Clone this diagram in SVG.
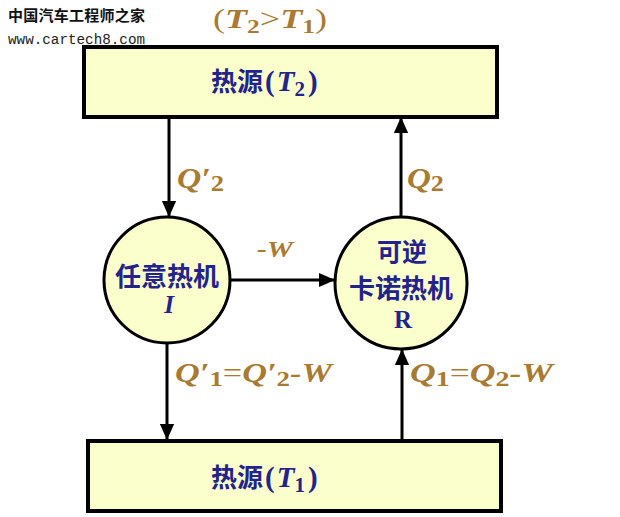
<svg xmlns="http://www.w3.org/2000/svg" width="620" height="517" viewBox="0 0 620 517">
<style>
.box{fill:#FAFFCC;stroke:#000;stroke-width:4}
.circ{fill:#FAFFCC;stroke:#000;stroke-width:3}
.ln{stroke:#000;stroke-width:3;fill:none}
.cn{font-family:"Noto Sans CJK SC","Noto Sans",sans-serif;font-weight:bold;fill:#23238C}
.lat{font-family:"Liberation Serif",serif;font-weight:bold;fill:#23238C}
.lab{font-family:"Liberation Serif",serif;font-weight:bold;font-style:italic;fill:#A87A32}
.it{font-style:italic}
.up{font-style:normal}
</style>
<defs>
<marker id="ah" markerUnits="userSpaceOnUse" markerWidth="16" markerHeight="20" viewBox="0 0 18 16" refX="18" refY="8" orient="auto">
<path d="M0,0 L18,8 L0,16 Z" fill="#000"/>
</marker>
</defs>
<rect width="620" height="517" fill="#fff"/>
<g id="watermark">
<text x="8" y="21" font-family="Noto Sans CJK SC,sans-serif" font-weight="bold" font-size="15" textLength="137" fill="#111">中国汽车工程师之家</text>
<text x="8" y="44" font-family="Liberation Mono,monospace" font-size="14" textLength="137" lengthAdjust="spacingAndGlyphs" fill="#222">www.cartech8.com</text>
</g>
<g id="condition">
<text x="213" y="28" class="lab" font-size="27" textLength="114" lengthAdjust="spacingAndGlyphs"><tspan class="up" font-weight="normal">(</tspan>T<tspan class="up" font-size="19" dy="5">2</tspan><tspan class="up" font-weight="normal" dy="-5">&gt;</tspan>T<tspan class="up" font-size="19" dy="5">1</tspan><tspan class="up" font-weight="normal" dy="-5">)</tspan></text>
</g>
<g id="connectors">
<line class="ln" x1="169" y1="117" x2="169" y2="217" marker-end="url(#ah)"/>
<line class="ln" x1="401" y1="217" x2="401" y2="117" marker-end="url(#ah)"/>
<line class="ln" x1="230" y1="280" x2="335" y2="280" marker-end="url(#ah)"/>
<line class="ln" x1="167" y1="343" x2="167" y2="440" marker-end="url(#ah)"/>
<line class="ln" x1="402" y1="440" x2="402" y2="349" marker-end="url(#ah)"/>
</g>
<g id="hot-source">
<rect class="box" x="84" y="47" width="413" height="70"/>
<text x="211" y="91" class="cn" font-size="26">热源<tspan class="lat" font-size="29" dx="2">(</tspan><tspan class="lat it" font-size="29" dx="2">T</tspan><tspan class="lat" font-size="21" dy="5">2</tspan><tspan class="lat" font-size="29" dy="-5" dx="3">)</tspan></text>
</g>
<g id="cold-source">
<rect class="box" x="88" y="441" width="413" height="70"/>
<text x="211" y="487" class="cn" font-size="26">热源<tspan class="lat" font-size="29" dx="2">(</tspan><tspan class="lat it" font-size="29" dx="2">T</tspan><tspan class="lat" font-size="21" dy="5">1</tspan><tspan class="lat" font-size="29" dy="-5" dx="3">)</tspan></text>
</g>
<g id="engine-I">
<circle class="circ" cx="167" cy="280" r="63"/>
<text x="167" y="286" class="cn" font-size="26" text-anchor="middle">任意热机</text>
<text x="169" y="313" class="lat it" font-size="25" text-anchor="middle">I</text>
</g>
<g id="engine-R">
<circle class="circ" cx="401" cy="283" r="66"/>
<text x="402" y="261" class="cn" font-size="25" text-anchor="middle">可逆</text>
<text x="401" y="298" class="cn" font-size="26" text-anchor="middle">卡诺热机</text>
<text x="403" y="328" class="lat" font-size="25" text-anchor="middle">R</text>
</g>
<g id="labels">
<text x="177" y="188" class="lab" font-size="29" textLength="47" lengthAdjust="spacingAndGlyphs">Q′<tspan class="up" font-size="23" dy="3">2</tspan></text>
<text x="407" y="188" class="lab" font-size="29" textLength="37" lengthAdjust="spacingAndGlyphs">Q<tspan class="up" font-size="23" dy="3">2</tspan></text>
<text x="257" y="257" class="lab" font-size="24" textLength="36" lengthAdjust="spacingAndGlyphs">-W</text>
<text x="175" y="382" class="lab" font-size="28" textLength="157" lengthAdjust="spacingAndGlyphs">Q′<tspan class="up" font-size="22" dy="4">1</tspan><tspan class="up" font-weight="normal" dy="-4">=</tspan>Q′<tspan class="up" font-size="22" dy="4">2</tspan><tspan dy="-4">-W</tspan></text>
<text x="410" y="382" class="lab" font-size="28" textLength="143" lengthAdjust="spacingAndGlyphs">Q<tspan class="up" font-size="22" dy="4">1</tspan><tspan class="up" font-weight="normal" dy="-4">=</tspan>Q<tspan class="up" font-size="22" dy="4">2</tspan><tspan dy="-4">-W</tspan></text>
</g>
</svg>
